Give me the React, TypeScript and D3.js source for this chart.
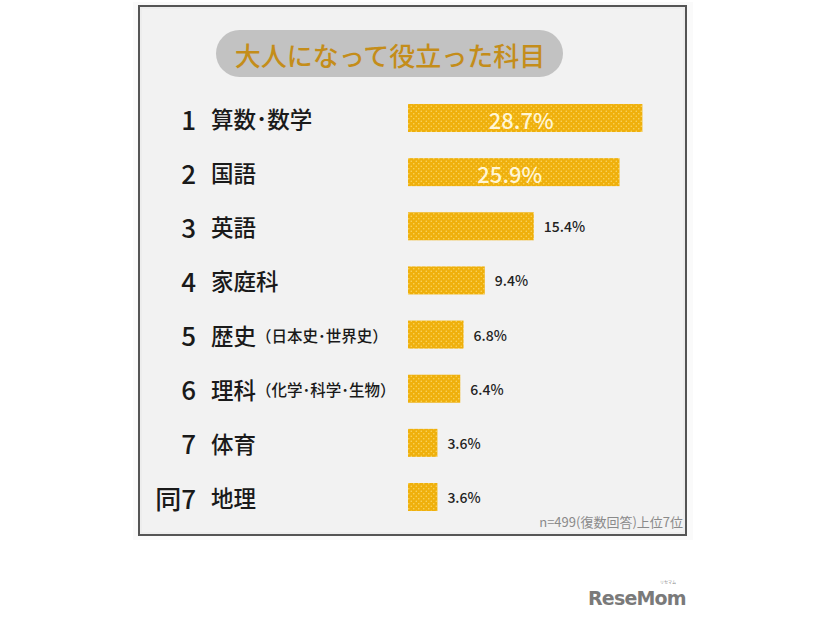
import React from "react";
import * as d3 from "d3";

const ranks = ["1", "2", "3", "4", "5", "6", "7", "同7"];
const subjects = ["算数･数学", "国語", "英語", "家庭科", "歴史", "理科", "体育", "地理"];
const notes = ["", "", "", "", "（日本史･世界史）", "（化学･科学･生物）", "", ""];
const values = [28.7, 25.9, 15.4, 9.4, 6.8, 6.4, 3.6, 3.6];
const title = "大人になって役立った科目";
const footnote = "n=499(復数回答)上位7位";

const FONT = "'Noto Sans CJK JP', 'Noto Sans', sans-serif";

export default function App() {
  const x = d3.scaleLinear().domain([0, 30]).range([408, 408 + 245]);
  const y = d3.scalePoint<string>().domain(subjects).range([118, 497]);
  const barH = 28;

  return (
    <svg
      width={826}
      height={620}
      style={{ position: "absolute", left: 0, top: 0, background: "#ffffff" }}
      fontFamily={FONT}
    >
      <defs>
        <pattern id="dots" width={5} height={5} patternUnits="userSpaceOnUse">
          <rect width={5} height={5} fill="#efb00c" />
          <circle cx={1.25} cy={1.25} r={0.75} fill="#fbd868" />
          <circle cx={3.75} cy={3.75} r={0.75} fill="#fbd868" />
        </pattern>
      </defs>
      <rect x={133} y={2} width={560} height={538} fill="#fafafa" />
      <rect x={139} y={6} width={547} height={529} fill="#f2f2f2" stroke="#555" strokeWidth={2} />
      <rect x={141} y={8} width={543} height={525} fill="none" stroke="#e8e8e8" strokeWidth={1} />

      <rect x={216} y={30} width={347} height={47} rx={23.5} fill="#c2c2c2" />
      <text x={390} y={54} textAnchor="middle" dominantBaseline="central" fontSize={26} fontWeight={500} fill="#c48d1a">
        {title}
      </text>

      {subjects.map((s, i) => {
        const cy = y(s)!;
        const w = x(values[i]) - x(0);
        const inside = values[i] > 20;
        return (
          <g key={s}>
            <text x={196} y={cy} textAnchor="end" dominantBaseline="central" fontSize={26} fontWeight={500} fill="#1a1a1a">
              {ranks[i]}
            </text>
            <text x={211} y={cy} dominantBaseline="central" fill="#1a1a1a">
              <tspan fontSize={22.5} fontWeight={500}>{s}</tspan>
              {notes[i] && (
                <tspan fontSize={15.5} fontWeight={500}>{notes[i]}</tspan>
              )}
            </text>
            <rect x={x(0)} y={cy - barH / 2} width={w} height={barH} fill="url(#dots)" />
            {inside ? (
              <text x={x(0) + w / 2 - 4} y={cy + 1} textAnchor="middle" dominantBaseline="central" fontSize={22} fontWeight={500} fill="#fff6d6">
                {values[i].toFixed(1)}%
              </text>
            ) : (
              <text x={x(0) + w + 10} y={cy} dominantBaseline="central" fontSize={14} fontWeight={500} fill="#222">
                {values[i].toFixed(1)}%
              </text>
            )}
          </g>
        );
      })}

      <text x={683} y={521} textAnchor="end" dominantBaseline="central" fontSize={13} fill="#8a8a8a">
        {footnote}
      </text>

      <text x={668} y={584} textAnchor="middle" fontSize={4} fill="#888">リセマム</text>
      <text x={588} y={605} fontSize={19} fontWeight={700} fill="#7a7a7a" fontFamily="'DejaVu Sans', sans-serif" letterSpacing={-0.8}>
        ReseMom
      </text>
      <circle cx={677} cy={604} r={1.2} fill="#7a7a7a" />
    </svg>
  );
}
